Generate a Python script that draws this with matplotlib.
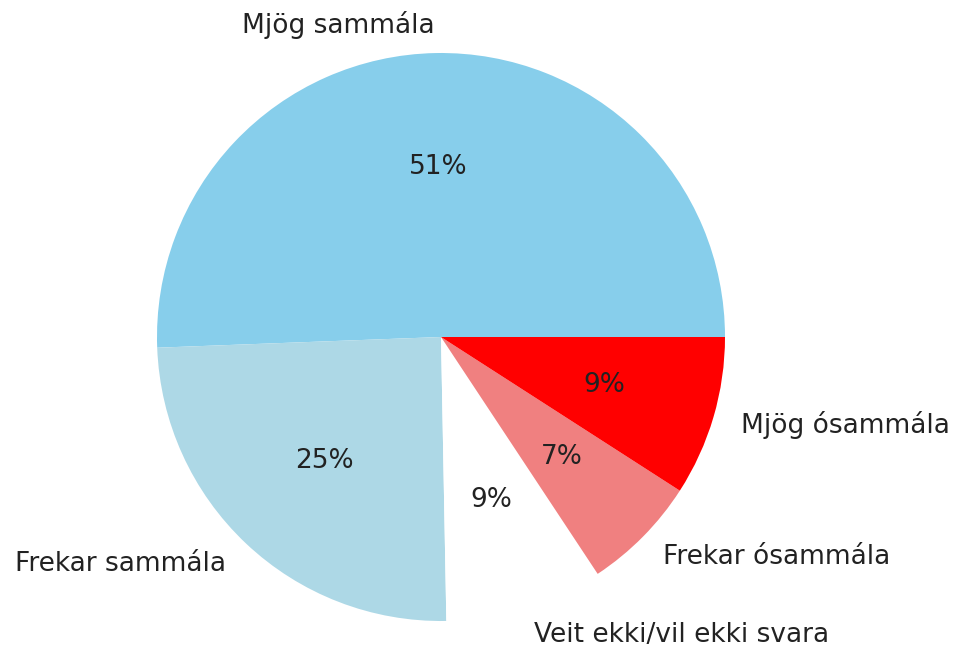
import matplotlib.pyplot as plt

# Survey answers (share of respondents)
labels = ["Mjög sammála", "Frekar sammála", "Veit ekki/vil ekki svara",
          "Frekar ósammála", "Mjög ósammála"]
values = [50.6, 24.7, 9.0, 6.6, 9.1]
colors = ["skyblue", "lightblue", "white", "lightcoral", "red"]

fig = plt.figure(figsize=(9.56, 6.53), dpi=100)
# axes placed so the pie sits where it does in the original
ax = fig.add_axes([157 / 956, 32 / 653, 568 / 956, 568 / 653])

ax.pie(values, labels=labels, colors=colors, autopct="%1.0f%%",
       textprops={"fontsize": 19, "color": "#222222"})
ax.set_xlim(-1, 1)
ax.set_ylim(-1, 1)
ax.set_aspect("equal")

plt.savefig("out.png", dpi=100)
